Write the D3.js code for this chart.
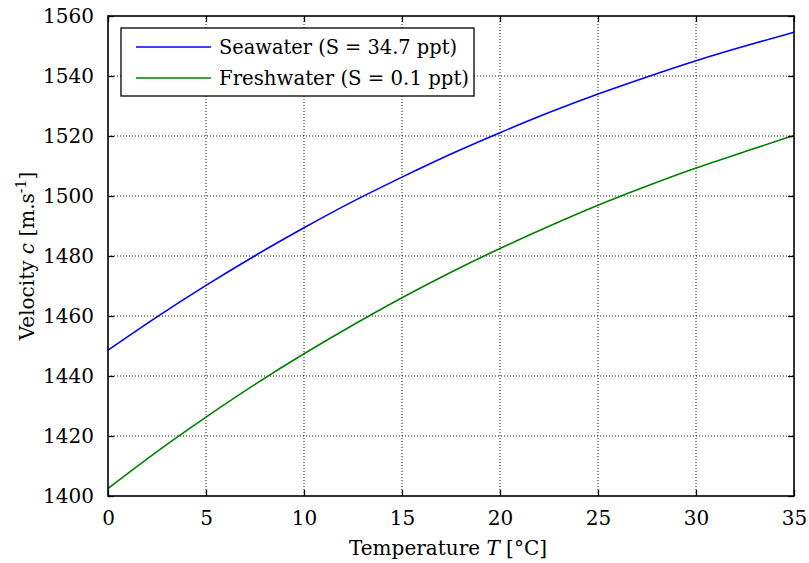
<!DOCTYPE html>
<html>
<head>
<meta charset="utf-8">
<script src="https://cdn.jsdelivr.net/npm/d3@7"></script>
<style>
  body { margin: 0; background: #fff; }
  svg { display: block; font-family: "DejaVu Serif", serif; }
  .grid line { stroke: #000; stroke-dasharray: 1 2; stroke-width: 0.9; }
</style>
</head>
<body>
<svg id="chart" width="809" height="563"></svg>
<script>
'use strict';
// Temperature [°C] and sound velocity [m/s]
const temps = [0, 2.5, 5, 7.5, 10, 12.5, 15, 17.5, 20, 22.5, 25, 27.5, 30, 32.5, 35];
const seawater = [1448.6, 1459.7, 1470.2, 1480.1, 1489.4, 1498.2, 1506.3, 1514.0, 1521.1, 1527.8, 1534.0, 1539.7, 1545.1, 1550.0, 1554.6];
const freshwater = [1402.5, 1414.8, 1426.3, 1437.2, 1447.4, 1457.0, 1466.1, 1474.6, 1482.5, 1489.9, 1496.9, 1503.3, 1509.3, 1514.8, 1520.2];
const xTicks = [0, 5, 10, 15, 20, 25, 30, 35];
const yTicks = [1400, 1420, 1440, 1460, 1480, 1500, 1520, 1540, 1560];
const seriesNames = ['Seawater (S = 34.7 ppt)', 'Freshwater (S = 0.1 ppt)'];
const seriesColors = ['#0000ff', '#008000'];

const svg = d3.select('#chart');
const m = {left: 108, right: 15, top: 16, bottom: 67};
const W = 809, H = 563;
const fs = 20;

const x = d3.scaleLinear().domain([0, 35]).range([m.left, W - m.right]);
const y = d3.scaleLinear().domain([1400, 1560]).range([H - m.bottom, m.top]);

// grid
const grid = svg.append('g').attr('class', 'grid');
grid.selectAll('.gx').data(xTicks.slice(1, -1)).enter().append('line')
  .attr('x1', d => x(d)).attr('x2', d => x(d))
  .attr('y1', y(1400)).attr('y2', y(1560));
grid.selectAll('.gy').data(yTicks.slice(1, -1)).enter().append('line')
  .attr('x1', x(0)).attr('x2', x(35))
  .attr('y1', d => y(d)).attr('y2', d => y(d));

// lines
const line = d3.line().x(d => x(d[0])).y(d => y(d[1])).curve(d3.curveNatural);
[seawater, freshwater].forEach((vals, i) => {
  svg.append('path')
    .datum(temps.map((t, j) => [t, vals[j]]))
    .attr('fill', 'none')
    .attr('stroke', seriesColors[i])
    .attr('stroke-width', 1.6)
    .attr('d', line);
});

// axes (ticks inward, on all sides)
const tick = 6;
const styleText = g => g.selectAll('text').attr('font-size', fs)
  .attr('font-family', '"DejaVu Serif", serif').attr('fill', '#000');
svg.append('g').attr('transform', `translate(0,${y(1400)})`)
  .call(d3.axisBottom(x).tickValues(xTicks).tickSize(-tick).tickPadding(tick + 9).tickFormat(d3.format('d')))
  .call(g => g.select('.domain').remove())
  .call(styleText);
svg.append('g').attr('transform', `translate(0,${y(1560)})`)
  .call(d3.axisTop(x).tickValues(xTicks).tickSize(-tick).tickFormat(''))
  .call(g => g.select('.domain').remove());
svg.append('g').attr('transform', `translate(${x(0)},0)`)
  .call(d3.axisLeft(y).tickValues(yTicks).tickSize(-tick).tickPadding(tick + 8).tickFormat(d3.format('d')))
  .call(g => g.select('.domain').remove())
  .call(styleText);
svg.append('g').attr('transform', `translate(${x(35)},0)`)
  .call(d3.axisRight(y).tickValues(yTicks).tickSize(-tick).tickFormat(''))
  .call(g => g.select('.domain').remove());
svg.selectAll('.tick line').attr('stroke', '#000').attr('stroke-width', 1.3);

// frame
svg.append('rect')
  .attr('x', x(0)).attr('y', y(1560))
  .attr('width', x(35) - x(0)).attr('height', y(1400) - y(1560))
  .attr('fill', 'none').attr('stroke', '#000').attr('stroke-width', 1.6);

// axis titles
const xt = svg.append('text')
  .attr('x', 448).attr('y', 555)
  .attr('text-anchor', 'middle').attr('font-size', fs);
xt.append('tspan').text('Temperature ');
xt.append('tspan').attr('font-style', 'italic').text('T');
xt.append('tspan').text(' [°C]');

const yt = svg.append('text')
  .attr('transform', `translate(34,${(y(1400) + y(1560)) / 2}) rotate(-90)`)
  .attr('text-anchor', 'middle').attr('font-size', fs);
yt.append('tspan').text('Velocity ');
yt.append('tspan').attr('font-style', 'italic').text('c');
yt.append('tspan').text(' [m.s');
yt.append('tspan').attr('font-size', 14).attr('dy', -8).text('-1');
yt.append('tspan').attr('dy', 8).text(']');

// legend
const lg = svg.append('g');
lg.append('rect').attr('x', 121).attr('y', 28).attr('width', 353).attr('height', 68)
  .attr('fill', '#fff').attr('stroke', '#000').attr('stroke-width', 1.3);
seriesNames.forEach((name, i) => {
  const ly = 47 + i * 31;
  lg.append('line').attr('x1', 136).attr('x2', 211).attr('y1', ly).attr('y2', ly)
    .attr('stroke', seriesColors[i]).attr('stroke-width', 1.6);
  lg.append('text').attr('x', 219).attr('y', ly + 7).attr('font-size', fs)
    .attr('textLength', i === 0 ? 238 : 250).attr('lengthAdjust', 'spacingAndGlyphs').text(name);
});
</script>
</body>
</html>
